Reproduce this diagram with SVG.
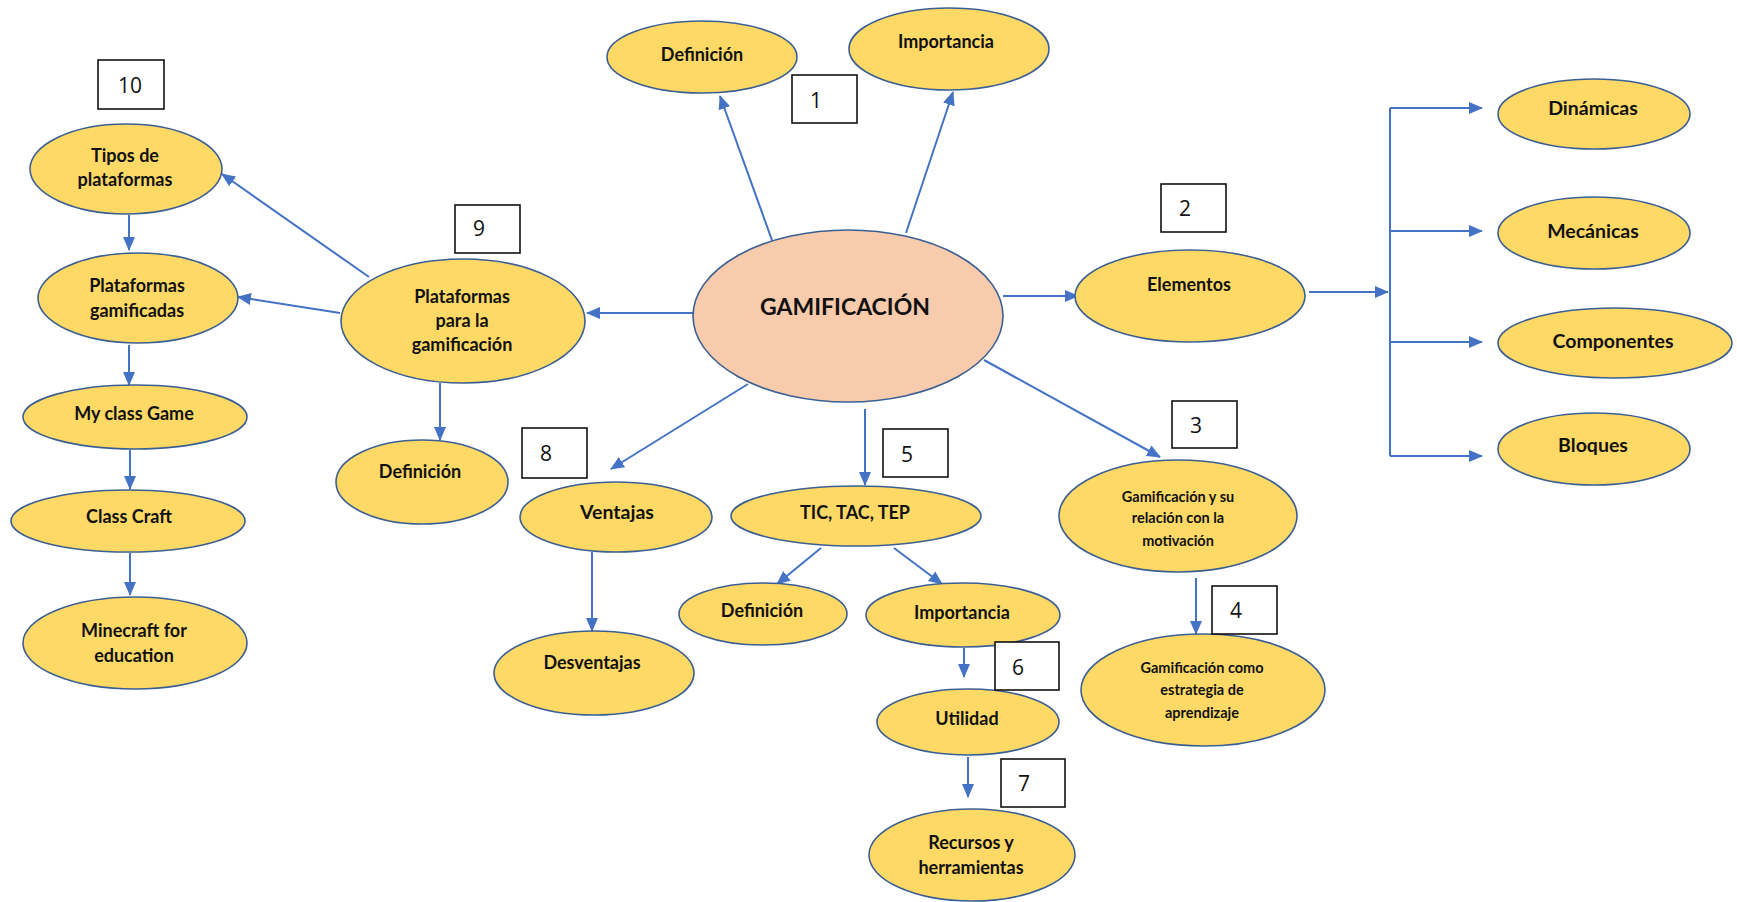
<svg xmlns="http://www.w3.org/2000/svg" width="1737" height="902" viewBox="0 0 1737 902">
  <style>
    .node ellipse { fill: #FFD966; stroke: #3B5F93; stroke-width: 1.6; }
    .node.core ellipse { fill: #F8CBAD; }
    .node text { font-family: Lato, "Liberation Sans", sans-serif; font-weight: 700; font-size: 18px; fill: #111; text-anchor: middle; dominant-baseline: central; }
    .node text.sm { font-size: 14.5px; }
    .node text.lg { font-size: 19.5px; }
    .node text.title { font-size: 23px; }
    .tag rect { fill: #fff; stroke: #111; stroke-width: 1.6; }
    .tag text { font-family: "Open Sans", "Liberation Sans", sans-serif; font-size: 21px; fill: #111; text-anchor: middle; dominant-baseline: central; }
    .links line, .links path { stroke: #4472C4; stroke-width: 2; fill: none; }
    .links .arr { marker-end: url(#tip); }
  </style>
  <defs>
    <marker id="tip" markerUnits="userSpaceOnUse" markerWidth="14" markerHeight="14" viewBox="0 0 14 14" refX="13" refY="7" orient="auto">
      <path d="M0,1 L14,7 L0,13 Z" fill="#4472C4"/>
    </marker>
  </defs>
  <rect width="1737" height="902" fill="#fff"/>

  <!-- connectors -->
  <g class="links">
    <line class="arr" x1="773" y1="243" x2="720" y2="96"/>
    <line class="arr" x1="906" y1="233" x2="953" y2="92"/>
    <line class="arr" x1="693" y1="313" x2="587" y2="313"/>
    <line class="arr" x1="1003" y1="296" x2="1078" y2="296"/>
    <line class="arr" x1="1309" y1="292" x2="1388" y2="292"/>
    <line x1="1390" y1="108" x2="1390" y2="456"/>
    <line class="arr" x1="1390" y1="108" x2="1482" y2="108"/>
    <line class="arr" x1="1390" y1="231" x2="1482" y2="231"/>
    <line class="arr" x1="1390" y1="342" x2="1482" y2="342"/>
    <line class="arr" x1="1390" y1="456" x2="1482" y2="456"/>
    <line class="arr" x1="984" y1="360" x2="1160" y2="457"/>
    <line class="arr" x1="748" y1="384" x2="611" y2="469"/>
    <line class="arr" x1="865" y1="409" x2="865" y2="485"/>
    <line class="arr" x1="821" y1="548" x2="777" y2="584"/>
    <line class="arr" x1="894" y1="548" x2="942" y2="584"/>
    <line class="arr" x1="964" y1="648" x2="964" y2="677"/>
    <line class="arr" x1="968" y1="757" x2="968" y2="797"/>
    <line class="arr" x1="1196" y1="578" x2="1196" y2="634"/>
    <line class="arr" x1="592" y1="552" x2="592" y2="631"/>
    <line class="arr" x1="440" y1="383" x2="440" y2="440"/>
    <line class="arr" x1="369" y1="277" x2="222" y2="174"/>
    <line class="arr" x1="340" y1="313" x2="238" y2="297"/>
    <line class="arr" x1="129" y1="215" x2="129" y2="250"/>
    <line class="arr" x1="129" y1="345" x2="129" y2="385"/>
    <line class="arr" x1="130" y1="450" x2="130" y2="489"/>
    <line class="arr" x1="130" y1="553" x2="130" y2="595"/>
  </g>

  <!-- central concept -->
  <g id="gamificacion" class="node core">
    <ellipse cx="848" cy="316" rx="155" ry="86"/>
    <text class="title" x="845" y="306">GAMIFICACIÓN</text>
  </g>

  <!-- branch 1 -->
  <g id="definicion-top" class="node">
    <ellipse cx="702" cy="57" rx="95" ry="36"/>
    <text x="702" y="54">Definición</text>
  </g>
  <g id="importancia-top" class="node">
    <ellipse cx="949" cy="49" rx="100" ry="41"/>
    <text x="946" y="41">Importancia</text>
  </g>

  <!-- branch 2 -->
  <g id="elementos" class="node">
    <ellipse cx="1190" cy="296" rx="115" ry="46"/>
    <text x="1189" y="284">Elementos</text>
  </g>
  <g id="dinamicas" class="node">
    <ellipse cx="1594" cy="114" rx="96" ry="35"/>
    <text class="lg" x="1593" y="107">Dinámicas</text>
  </g>
  <g id="mecanicas" class="node">
    <ellipse cx="1594" cy="233" rx="96" ry="36"/>
    <text class="lg" x="1593" y="230">Mecánicas</text>
  </g>
  <g id="componentes" class="node">
    <ellipse cx="1615" cy="343" rx="117" ry="35"/>
    <text class="lg" x="1613" y="340">Componentes</text>
  </g>
  <g id="bloques" class="node">
    <ellipse cx="1594" cy="449" rx="96" ry="36"/>
    <text class="lg" x="1593" y="444">Bloques</text>
  </g>

  <!-- branches 3 and 4 -->
  <g id="motivacion" class="node">
    <ellipse cx="1178" cy="516" rx="119" ry="56"/>
    <text class="sm" x="1178" y="496">Gamificación y su</text>
    <text class="sm" x="1178" y="517">relación con la</text>
    <text class="sm" x="1178" y="540">motivación</text>
  </g>
  <g id="estrategia" class="node">
    <ellipse cx="1203" cy="690" rx="122" ry="56"/>
    <text class="sm" x="1202" y="667">Gamificación como</text>
    <text class="sm" x="1202" y="689">estrategia de</text>
    <text class="sm" x="1202" y="712">aprendizaje</text>
  </g>

  <!-- branches 5 to 7 -->
  <g id="tic" class="node">
    <ellipse cx="856" cy="516" rx="125" ry="30"/>
    <text x="855" y="512">TIC, TAC, TEP</text>
  </g>
  <g id="definicion-tic" class="node">
    <ellipse cx="763" cy="614" rx="84" ry="31"/>
    <text x="762" y="610">Definición</text>
  </g>
  <g id="importancia-tic" class="node">
    <ellipse cx="963" cy="615" rx="97" ry="32"/>
    <text x="962" y="612">Importancia</text>
  </g>
  <g id="utilidad" class="node">
    <ellipse cx="968" cy="722" rx="91" ry="33"/>
    <text x="967" y="718">Utilidad</text>
  </g>
  <g id="recursos" class="node">
    <ellipse cx="972" cy="855" rx="103" ry="46"/>
    <text x="971" y="842">Recursos y</text>
    <text x="971" y="867">herramientas</text>
  </g>

  <!-- branch 8 -->
  <g id="ventajas" class="node">
    <ellipse cx="616" cy="517" rx="96" ry="35"/>
    <text class="lg" x="617" y="511">Ventajas</text>
  </g>
  <g id="desventajas" class="node">
    <ellipse cx="594" cy="673" rx="100" ry="42"/>
    <text x="592" y="662">Desventajas</text>
  </g>

  <!-- branches 9 and 10 -->
  <g id="plataformas" class="node">
    <ellipse cx="463" cy="321" rx="122" ry="62"/>
    <text x="462" y="296">Plataformas</text>
    <text x="462" y="320">para la</text>
    <text x="462" y="344">gamificación</text>
  </g>
  <g id="definicion-plat" class="node">
    <ellipse cx="422" cy="482" rx="86" ry="42"/>
    <text x="420" y="471">Definición</text>
  </g>
  <g id="tipos" class="node">
    <ellipse cx="126" cy="169" rx="96" ry="45"/>
    <text x="125" y="155">Tipos de</text>
    <text x="125" y="179">plataformas</text>
  </g>
  <g id="gamificadas" class="node">
    <ellipse cx="138" cy="298" rx="100" ry="45"/>
    <text x="137" y="285">Plataformas</text>
    <text x="137" y="310">gamificadas</text>
  </g>
  <g id="myclassgame" class="node">
    <ellipse cx="135" cy="417" rx="112" ry="32"/>
    <text x="134" y="413">My class Game</text>
  </g>
  <g id="classcraft" class="node">
    <ellipse cx="128" cy="521" rx="117" ry="31"/>
    <text x="129" y="516">Class Craft</text>
  </g>
  <g id="minecraft" class="node">
    <ellipse cx="135" cy="643" rx="112" ry="46"/>
    <text x="134" y="630">Minecraft for</text>
    <text x="134" y="655">education</text>
  </g>

  <!-- numbered tags -->
  <g id="tag1" class="tag"><rect x="792" y="75" width="65" height="48"/><text x="816" y="100">1</text></g>
  <g id="tag2" class="tag"><rect x="1161" y="184" width="65" height="48"/><text x="1185" y="208">2</text></g>
  <g id="tag3" class="tag"><rect x="1172" y="401" width="65" height="47"/><text x="1196" y="425">3</text></g>
  <g id="tag4" class="tag"><rect x="1212" y="586" width="65" height="48"/><text x="1236" y="610">4</text></g>
  <g id="tag5" class="tag"><rect x="883" y="429" width="65" height="48"/><text x="907" y="454">5</text></g>
  <g id="tag6" class="tag"><rect x="995" y="642" width="64" height="48"/><text x="1018" y="667">6</text></g>
  <g id="tag7" class="tag"><rect x="1001" y="759" width="64" height="48"/><text x="1024" y="783">7</text></g>
  <g id="tag8" class="tag"><rect x="522" y="428" width="65" height="50"/><text x="546" y="453">8</text></g>
  <g id="tag9" class="tag"><rect x="455" y="205" width="65" height="48"/><text x="479" y="228">9</text></g>
  <g id="tag10" class="tag"><rect x="98" y="60" width="66" height="49"/><text x="130" y="85">10</text></g>
</svg>
